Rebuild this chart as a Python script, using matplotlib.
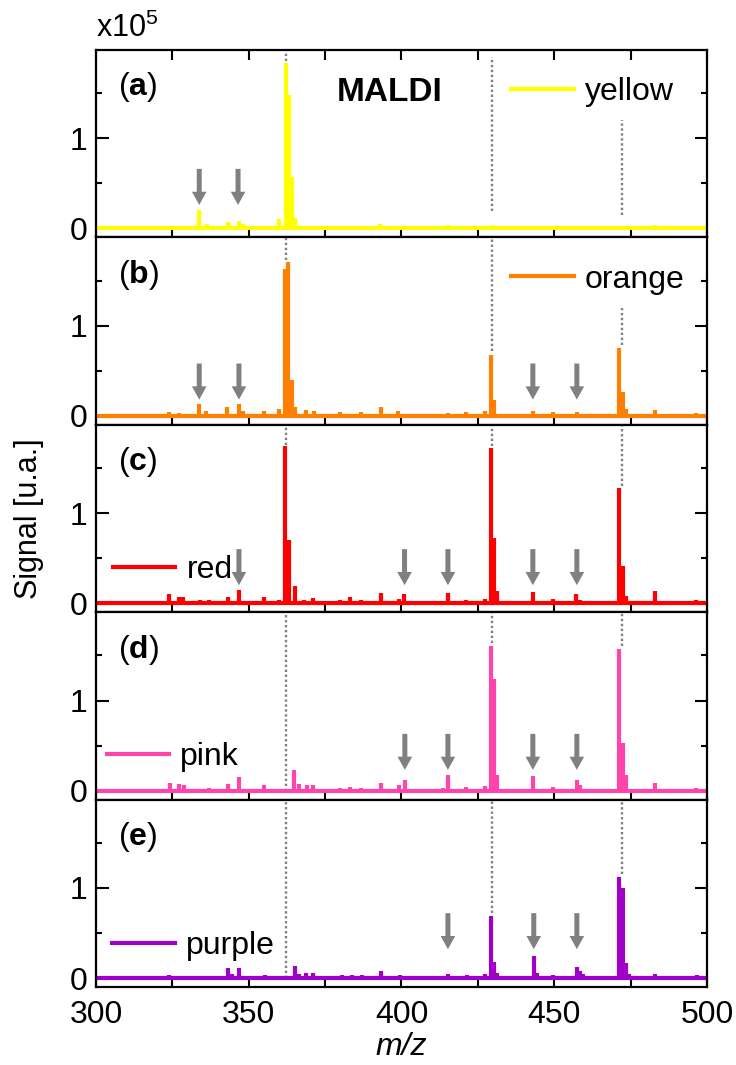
import numpy as np
import matplotlib
matplotlib.use("Agg")
import matplotlib.pyplot as plt

plt.rcParams['font.family'] = ['Liberation Sans', 'DejaVu Sans']
plt.rcParams['mathtext.fontset'] = 'custom'
plt.rcParams['mathtext.rm'] = 'Liberation Sans'
plt.rcParams['mathtext.bf'] = 'Liberation Sans:bold'
plt.rcParams['mathtext.it'] = 'Liberation Sans:italic'
plt.rcParams['font.size'] = 23

# peak lists (m/z, signal x1e5)
yellow_mz = [324.0, 333.8, 336.2, 343.2, 346.8, 348.0, 360.0, 362.3, 363.3, 364.3, 365.3,
             368.7, 380.0, 393.0, 399.2, 415.2, 427.3, 430.0, 449.6, 457.4, 483.0, 496.4]
yellow_int = [0.03, 0.20, 0.05, 0.07, 0.08, 0.05, 0.10, 1.83, 1.48, 0.57, 0.11,
              0.03, 0.02, 0.05, 0.02, 0.04, 0.02, 0.04, 0.03, 0.02, 0.04, 0.02]

orange_mz = [324.0, 327.2, 333.8, 336.0, 343.0, 346.8, 348.0, 355.0, 360.0, 361.9, 362.9,
             364.0, 365.0, 368.7, 371.4, 380.0, 386.8, 393.3, 399.0, 415.2, 421.0, 427.3,
             429.3, 430.3, 443.0, 449.6, 457.4, 471.2, 472.4, 473.5, 483.0, 496.4]
orange_int = [0.04, 0.03, 0.13, 0.05, 0.10, 0.13, 0.05, 0.05, 0.08, 1.63, 1.71,
              0.40, 0.10, 0.06, 0.05, 0.04, 0.04, 0.10, 0.05, 0.03, 0.04, 0.05,
              0.67, 0.18, 0.05, 0.04, 0.04, 0.75, 0.26, 0.07, 0.06, 0.03]

red_mz = [324.0, 327.2, 328.5, 334.0, 337.0, 343.2, 346.8, 355.0, 360.0, 362.0, 363.2,
          365.2, 368.0, 371.0, 380.0, 383.0, 386.8, 393.3, 399.2, 400.8, 415.2, 421.1,
          427.3, 429.3, 430.3, 431.3, 439.0, 443.0, 449.6, 457.1, 458.4, 461.0, 471.2,
          472.4, 473.5, 483.0, 496.4]
red_int = [0.10, 0.07, 0.07, 0.04, 0.03, 0.07, 0.15, 0.07, 0.04, 1.74, 0.70,
           0.19, 0.04, 0.06, 0.04, 0.07, 0.04, 0.11, 0.05, 0.10, 0.11, 0.04,
           0.05, 1.72, 0.72, 0.13, 0.02, 0.12, 0.05, 0.10, 0.03, 0.02, 1.28,
           0.41, 0.08, 0.14, 0.03]

pink_mz = [324.2, 327.2, 328.7, 337.0, 343.2, 346.8, 355.0, 364.8, 366.5, 369.0, 371.0,
           380.0, 383.3, 386.8, 393.3, 399.2, 401.1, 413.6, 415.2, 421.1, 427.3, 429.3,
           430.3, 431.3, 443.0, 449.6, 457.4, 458.4, 461.0, 471.2, 472.4, 473.5, 483.0,
           496.4]
pink_int = [0.08, 0.07, 0.06, 0.03, 0.07, 0.15, 0.06, 0.23, 0.07, 0.06, 0.06,
            0.03, 0.04, 0.03, 0.09, 0.06, 0.12, 0.03, 0.17, 0.04, 0.05, 1.61,
            1.24, 0.17, 0.16, 0.04, 0.12, 0.06, 0.02, 1.57, 0.53, 0.17, 0.09,
            0.03]

purple_mz = [324.0, 327.0, 337.0, 343.2, 344.5, 346.8, 355.4, 365.2, 366.5, 368.7, 371.0,
             380.4, 383.7, 387.0, 393.3, 399.5, 415.2, 421.4, 427.3, 429.3, 430.3, 431.3,
             439.0, 443.3, 444.3, 449.6, 457.4, 458.4, 459.3, 471.2, 472.4, 473.5, 474.5,
             483.0, 496.7]
purple_int = [0.03, 0.02, 0.01, 0.11, 0.05, 0.11, 0.03, 0.13, 0.04, 0.06, 0.06,
              0.03, 0.03, 0.03, 0.08, 0.03, 0.04, 0.03, 0.05, 0.69, 0.18, 0.06,
              0.02, 0.24, 0.06, 0.03, 0.12, 0.08, 0.04, 1.12, 1.00, 0.17, 0.04,
              0.04, 0.03]

names = ['yellow', 'orange', 'red', 'pink', 'purple']
letters = ['a', 'b', 'c', 'd', 'e']
colors = ['#FFFF00', '#FF8000', '#FF0000', '#FF44AA', '#A000C8']
spectra = [(yellow_mz, yellow_int), (orange_mz, orange_int), (red_mz, red_int),
           (pink_mz, pink_int), (purple_mz, purple_int)]

# arrows (m/z of marked peaks) and tip height
arrows_mz = [[333.8, 346.5],
             [333.8, 346.8, 443.0, 457.4],
             [346.8, 401.0, 415.2, 443.0, 457.4],
             [401.1, 415.2, 443.0, 457.4],
             [415.2, 443.3, 457.4]]
arrow_tip = [0.26, 0.18, 0.20, 0.23, 0.32]

# dotted guides: (m/z, ymin, ymax)
guides = [[(362.3, 1.86, 1.97), (429.5, 0.19, 1.90), (472.1, 0.15, 1.20)],
          [(362.3, 1.73, 1.97), (429.5, 0.72, 1.97), (472.1, 0.78, 1.20)],
          [(362.3, 1.76, 1.97), (429.5, 1.75, 1.97), (472.1, 1.30, 1.97)],
          [(362.3, 0.0, 1.97), (429.5, 1.64, 1.97), (472.1, 1.60, 1.97)],
          [(362.3, 0.0, 1.97), (429.5, 0.72, 1.97), (472.1, 1.15, 1.97)]]

legend_pos = [(0.68, 0.775), (0.68, 0.775), (0.028, 0.225), (0.018, 0.225), (0.027, 0.22)]

fig, axes = plt.subplots(5, 1, sharex=True, figsize=(7.36, 10.65), dpi=100)
fig.subplots_adjust(left=0.1304, right=0.9606, top=0.9531, bottom=0.0732, hspace=0)

for i, ax in enumerate(axes):
    mz, inten = spectra[i]
    c = colors[i]
    for x, lo, hi in guides[i]:
        ax.vlines(x, lo, hi, colors='#808080', linestyles=(0, (1, 1.1)), lw=1.7, zorder=1)
    ax.axhline(0, color=c, lw=3.0, label=names[i], zorder=2)
    ax.vlines(mz, 0, inten, colors=c, lw=3.0, zorder=3)
    for x in arrows_mz[i]:
        ax.annotate('', xy=(x, arrow_tip[i]), xytext=(x, arrow_tip[i] + 0.40),
                    arrowprops=dict(facecolor='#808080', edgecolor='none',
                                    width=3.6, headwidth=10.5, headlength=9.5, shrink=0),
                    zorder=4)
    ax.set_xlim(300, 500)
    ax.set_ylim(-0.1, 1.98)
    ax.set_yticks([0, 1])
    ax.set_yticks([0.5, 1.5], minor=True)
    ax.set_xticks(np.arange(300, 501, 50))
    ax.set_xticks(np.arange(325, 500, 50), minor=True)
    ax.tick_params(which='both', direction='in', left=True, right=True,
                   top=(i == 0), bottom=True, width=1.5, labelsize=23)
    ax.tick_params(axis='y', which='major', length=9, pad=6)
    ax.tick_params(axis='y', which='minor', length=4)
    ax.tick_params(axis='x', which='both', length=7)
    ax.tick_params(axis='x', pad=9)
    for s in ax.spines.values():
        s.set_linewidth(1.6)
    ax.text(0.036, 0.80, r'($\mathbf{%s}$)' % letters[i], transform=ax.transAxes,
            fontsize=23, ha='left', va='center')
    ax.legend(loc='center left', bbox_to_anchor=legend_pos[i], frameon=False,
              borderpad=0, borderaxespad=0, handlelength=1.95, handletextpad=0.35,
              fontsize=23)

axes[0].text(0.48, 0.775, 'MALDI', transform=axes[0].transAxes, fontsize=24,
             fontweight='bold', ha='center', va='center')
axes[0].text(0.0, 1.03, r'x10$^5$', transform=axes[0].transAxes, fontsize=22,
             ha='left', va='bottom')

axes[-1].set_xlabel('m/z', fontstyle='italic', fontsize=23, labelpad=2)
fig.text(0.040, 0.513, 'Signal [u.a.]', rotation=90, fontsize=22, ha='center', va='center')

fig.savefig('out.png', dpi=100)
